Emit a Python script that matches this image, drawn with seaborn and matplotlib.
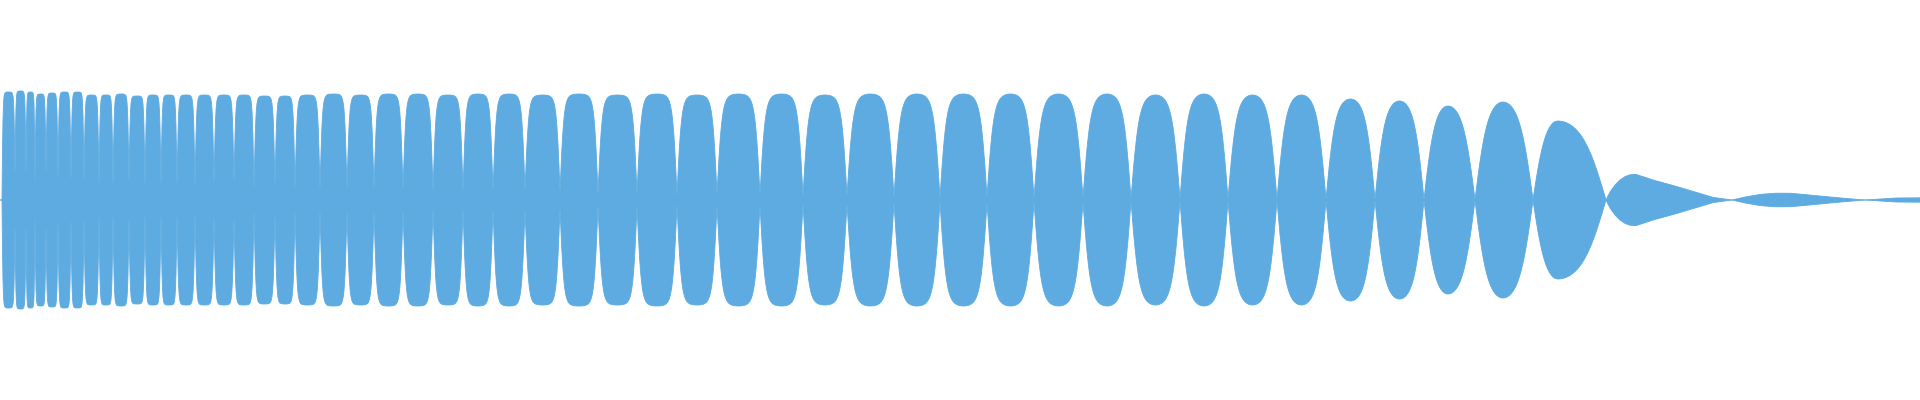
import matplotlib
matplotlib.use("Agg")
import matplotlib.pyplot as plt
import numpy as np
import pandas as pd
import seaborn as sns

sns.set_theme(style="white")

WAVE_COLOR = "#5DABE1"

# beat nodes of the sweep (x position in pixel columns)
nodes = [
    2, 15, 26, 35, 46, 58, 71, 84, 99, 113,
    129, 145, 161, 177, 195, 214, 234, 254, 275, 295,
    320, 347, 374, 403, 433, 463, 493, 525, 560, 598,
    637, 677, 717, 760, 803, 847, 894, 940, 987, 1034,
    1083, 1131, 1180, 1228, 1277, 1326, 1375, 1424, 1475, 1533,
    1606,
]
# envelope left over at each node (fraction of half height)
node_floor = [
    0.0, 0.12, 0.12, 0.075, 0.12, 0.10, 0.09, 0.08, 0.065, 0.07,
    0.075, 0.065, 0.07, 0.07, 0.065, 0.08, 0.085, 0.05, 0.065, 0.055,
    0.05, 0.055, 0.05, 0.05, 0.045, 0.045, 0.04, 0.045, 0.04, 0.03,
    0.035, 0.025, 0.03, 0.025, 0.02, 0.02, 0.015, 0.01, 0.015, 0.01,
    0.01, 0.005, 0.005, 0.005, 0.003, 0.003, 0.003, 0.002, 0.002, 0.002,
    0.0,
]
# peak of each lobe between two nodes
lobe_peak = [
    0.54, 0.545, 0.54, 0.53, 0.535, 0.54, 0.54, 0.525, 0.525, 0.53,
    0.52, 0.525, 0.525, 0.525, 0.525, 0.525, 0.525, 0.52, 0.52, 0.525,
    0.53, 0.525, 0.53, 0.53, 0.525, 0.53, 0.53, 0.525, 0.53, 0.525,
    0.53, 0.525, 0.53, 0.53, 0.525, 0.53, 0.53, 0.53, 0.53, 0.53,
    0.53, 0.525, 0.53, 0.525, 0.525, 0.505, 0.495, 0.47, 0.49, 0.395,
]
# where the peak sits inside the lobe (0 = left node, 1 = right node)
lobe_skew = [0.5] * 47 + [0.47, 0.48, 0.34]
# how flat-topped (clipped) each lobe looks
lobe_clip = [
    4.0, 4.0, 4.0, 4.0, 4.0, 4.0, 4.0, 4.0, 4.0, 4.0,
    4.0, 4.0, 4.0, 3.8, 3.8, 3.8, 3.8, 3.6, 3.6, 3.6,
    3.5, 3.4, 3.3, 3.2, 3.2, 3.1, 3.0, 3.0, 3.0, 2.9,
    2.8, 2.7, 2.6, 2.5, 2.4, 2.3, 2.2, 2.2, 2.1, 2.0,
    1.9, 1.8, 1.8, 1.7, 1.6, 1.5, 1.4, 1.2, 1.2, 1.0,
]

# decaying tail after the last full lobe
tail_x = [1606, 1610, 1615, 1620, 1625, 1630, 1636, 1643, 1653, 1673, 1693, 1713, 1732,
          1745, 1760, 1775, 1790, 1810, 1830, 1850, 1865, 1880, 1895, 1920]
tail_amp = [0.0, 0.04, 0.075, 0.1, 0.117, 0.126, 0.128, 0.117, 0.1, 0.073, 0.043, 0.013, 0.0,
            0.015, 0.028, 0.034, 0.034, 0.025, 0.015, 0.006, 0.0, 0.005, 0.01, 0.011]


def lobe_envelope(x, x0, x1, f0, f1, peak, skew, clip):
    u = (x - x0) / (x1 - x0)
    uw = np.where(u < skew, 0.5 * u / skew, 0.5 + 0.5 * (u - skew) / (1 - skew))
    shape = np.tanh(clip * np.sin(np.pi * uw)) / np.tanh(clip)
    floor = f0 + (f1 - f0) * u
    return floor + (peak - floor) * shape


xs = np.arange(0, 1920.5, 0.5)
env = np.zeros_like(xs)
for i in range(len(lobe_peak)):
    m = (xs >= nodes[i]) & (xs <= nodes[i + 1])
    env[m] = lobe_envelope(xs[m], nodes[i], nodes[i + 1], node_floor[i],
                           node_floor[i + 1], lobe_peak[i], lobe_skew[i], lobe_clip[i])
m = xs >= tail_x[0]
env[m] = np.interp(xs[m], tail_x, tail_amp)

df = pd.DataFrame({"x": xs, "top": env, "bottom": -env})

fig = plt.figure(figsize=(19.2, 4), dpi=100)
ax = fig.add_axes([0, 0, 1, 1])
ax.fill_between(df["x"], df["bottom"], df["top"], color=WAVE_COLOR, linewidth=0)
sns.lineplot(data=df, x="x", y="top", ax=ax, color=WAVE_COLOR, linewidth=0.6, estimator=None)
sns.lineplot(data=df, x="x", y="bottom", ax=ax, color=WAVE_COLOR, linewidth=0.6, estimator=None)
ax.set_xlim(0, 1920)
ax.set_ylim(-1, 1)
ax.axis("off")
fig.savefig("out.png", dpi=100, facecolor="white")
